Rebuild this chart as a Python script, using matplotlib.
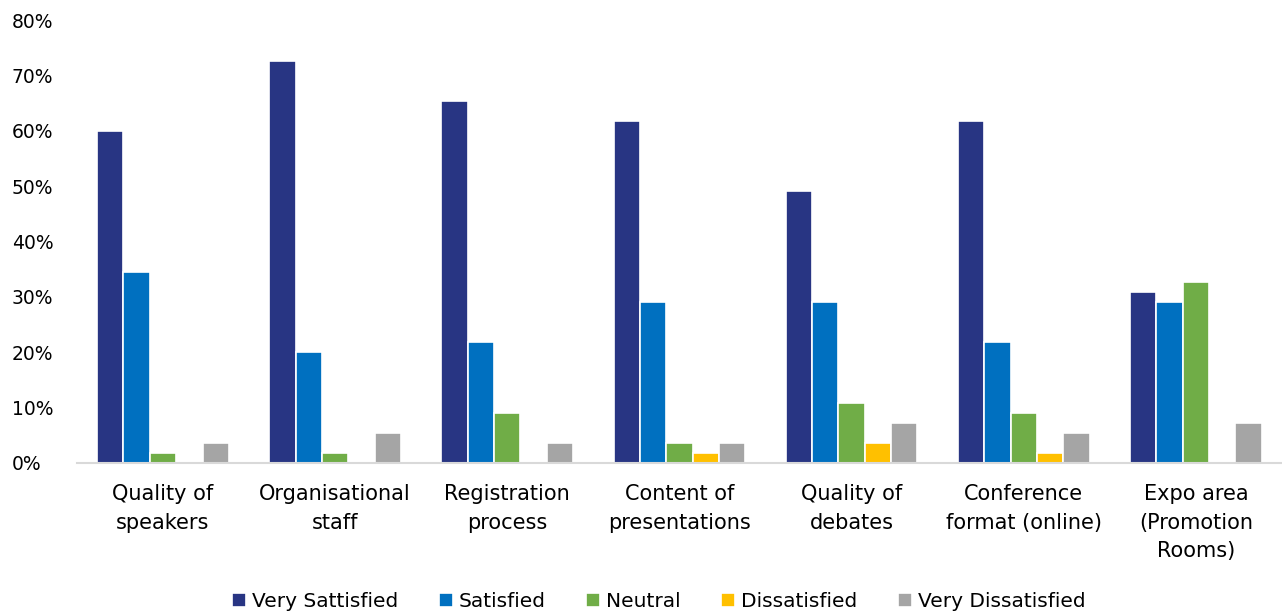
import matplotlib.pyplot as plt
import numpy as np

categories = [
    "Quality of\nspeakers",
    "Organisational\nstaff",
    "Registration\nprocess",
    "Content of\npresentations",
    "Quality of\ndebates",
    "Conference\nformat (online)",
    "Expo area\n(Promotion\nRooms)",
]
series_names = ["Very Sattisfied", "Satisfied", "Neutral", "Dissatisfied", "Very Dissatisfied"]
very_satisfied = [60.0, 72.7, 65.5, 61.8, 49.1, 61.8, 30.9]
satisfied = [34.5, 20.0, 21.8, 29.1, 29.1, 21.8, 29.1]
neutral = [1.8, 1.8, 9.1, 3.6, 10.9, 9.1, 32.7]
dissatisfied = [0.0, 0.0, 0.0, 1.8, 3.6, 1.8, 0.0]
very_dissatisfied = [3.6, 5.5, 3.6, 3.6, 7.3, 5.5, 7.3]
colors = ["#283583", "#0070C0", "#70AD47", "#FFC000", "#A5A5A5"]

values = [very_satisfied, satisfied, neutral, dissatisfied, very_dissatisfied]

plt.rcParams["font.family"] = "DejaVu Sans"
fig = plt.figure(figsize=(12.82, 6.14), dpi=100)
ax = fig.add_axes([0.06, 0.246, 0.94, 0.721])

x = np.arange(len(categories))
width = 0.153
for i, (name, vals, col) in enumerate(zip(series_names, values, colors)):
    ax.bar(x + (i - 2) * width, vals, width, label=name, color=col,
           edgecolor="white", linewidth=1.2)

ax.set_xlim(-0.5, len(categories) - 0.5)
ax.set_ylim(0, 80)
ax.set_yticks(np.arange(0, 81, 10))
ax.set_yticklabels([f"{v}%" for v in range(0, 81, 10)], fontsize=13.5)
ax.set_xticks(x)
ax.set_xticklabels(categories, fontsize=15, linespacing=1.55)
ax.tick_params(axis="both", length=0, colors="black")
ax.tick_params(axis="x", pad=15)
ax.tick_params(axis="y", pad=47)
for lab in ax.get_yticklabels():
    lab.set_horizontalalignment("left")
for side in ["top", "right", "left"]:
    ax.spines[side].set_visible(False)
ax.spines["bottom"].set_color("#D9D9D9")
ax.spines["bottom"].set_linewidth(1.5)

fig.legend(loc="center", bbox_to_anchor=(0.514, 0.02), ncol=5, frameon=False,
           fontsize=14.5, handlelength=0.7, handleheight=0.7, handletextpad=0.3,
           columnspacing=2.0)

fig.savefig("out.png", dpi=100)
